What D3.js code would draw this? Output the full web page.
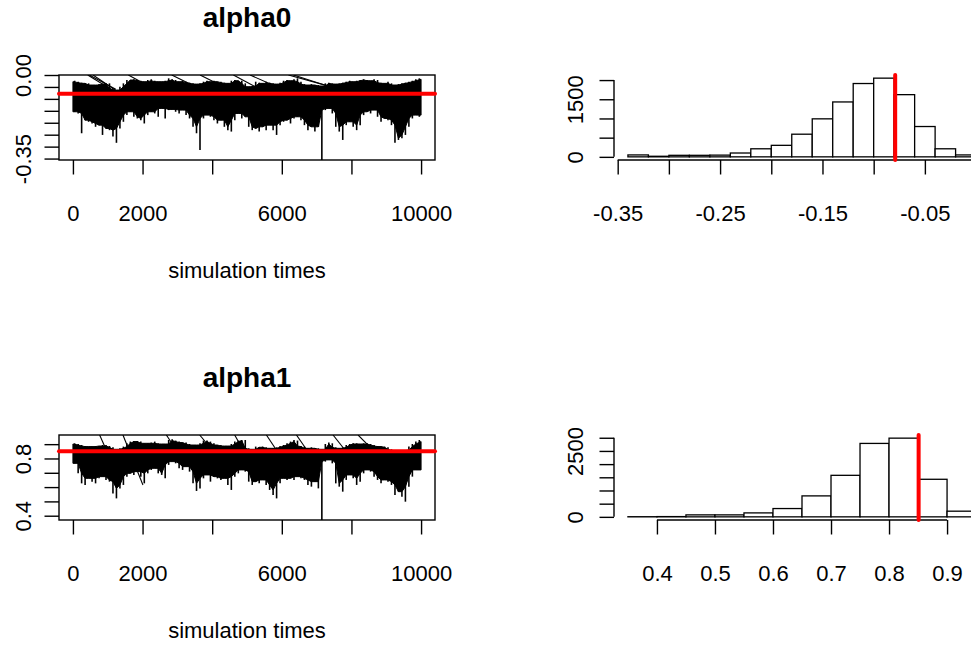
<!DOCTYPE html>
<html><head><meta charset="utf-8">
<script src="https://cdn.jsdelivr.net/npm/d3@7"></script>
<style>
body{margin:0;background:#fff}
svg{display:block}
text{font-family:"Liberation Sans",Arial,Helvetica,sans-serif;fill:#000}
</style>
</head><body>
<svg id="c" width="971" height="648"></svg>
<script>
// ---------------- DATA ----------------
const titles = ["alpha0", "alpha1"];
const xLabel = "simulation times";

// trace x axis (iterations)
const iterTicks = [0, 2000, 4000, 6000, 8000, 10000];
const iterTickLabels = ["0", "2000", "", "6000", "", "10000"];
const binStep = 100; // each envelope value summarises 100 iterations

// alpha0 trace: per-100-iteration max / min
const alpha0Max = [-0.024,-0.028,-0.032,-0.035,-0.035,-0.042,-0.042,-0.038,-0.038,-0.035,
 -0.035,-0.056,-0.063,-0.049,-0.035,-0.021,-0.021,-0.018,-0.021,-0.024,
 -0.028,-0.021,-0.018,-0.024,-0.028,-0.028,-0.024,-0.014,-0.018,-0.021,
 -0.028,-0.024,-0.028,-0.032,-0.035,-0.038,-0.035,-0.028,-0.024,-0.028,
 -0.024,-0.028,-0.028,-0.032,-0.035,-0.024,-0.021,-0.024,-0.024,-0.035,
 -0.049,-0.046,-0.028,-0.032,-0.035,-0.028,-0.032,-0.035,-0.038,-0.032,
 -0.024,-0.021,-0.024,-0.018,-0.014,-0.028,-0.038,-0.042,-0.038,-0.042,
 -0.042,-0.046,-0.035,-0.032,-0.035,-0.038,-0.035,-0.032,-0.028,-0.024,
 -0.028,-0.024,-0.021,-0.018,-0.021,-0.024,-0.018,-0.021,-0.032,-0.035,
 -0.028,-0.035,-0.042,-0.038,-0.035,-0.032,-0.028,-0.024,-0.018,-0.014];
const alpha0Min = [-0.154,-0.161,-0.244,-0.189,-0.196,-0.203,-0.217,-0.210,-0.251,-0.224,
 -0.231,-0.258,-0.284,-0.224,-0.196,-0.168,-0.154,-0.175,-0.182,-0.189,
 -0.203,-0.168,-0.154,-0.161,-0.175,-0.140,-0.182,-0.147,-0.144,-0.154,
 -0.161,-0.147,-0.168,-0.182,-0.217,-0.244,-0.314,-0.182,-0.168,-0.175,
 -0.189,-0.203,-0.189,-0.217,-0.231,-0.237,-0.189,-0.161,-0.182,-0.175,
 -0.217,-0.231,-0.224,-0.237,-0.217,-0.231,-0.210,-0.231,-0.251,-0.210,
 -0.196,-0.189,-0.203,-0.182,-0.175,-0.189,-0.210,-0.231,-0.217,-0.237,
 -0.217,-0.360,-0.147,-0.140,-0.161,-0.217,-0.237,-0.272,-0.210,-0.196,
 -0.217,-0.231,-0.210,-0.168,-0.154,-0.161,-0.147,-0.175,-0.196,-0.182,
 -0.189,-0.210,-0.284,-0.272,-0.265,-0.251,-0.217,-0.182,-0.168,-0.175];
// long jumps between far-apart draws: [iterStart, valueStart, iterEnd, valueEnd]
const alpha0Jumps = [
 [425,0,1210,-0.070],[470,0,1230,-0.060],[578,0,1928,-0.134],[1592,0,2121,-0.042],
 [2839,0,3365,-0.038],[3652,0,4514,-0.063],[4609,0,5328,-0.056],[5089,0,5951,-0.056],
 [6190,0,7580,-0.056],[6333,0,7675,-0.063]];

const alpha1Max = [0.906,0.901,0.894,0.887,0.883,0.883,0.887,0.887,0.894,0.894,
 0.887,0.878,0.864,0.871,0.883,0.906,0.918,0.922,0.922,0.918,
 0.906,0.906,0.911,0.918,0.906,0.901,0.901,0.929,0.934,0.925,
 0.918,0.911,0.911,0.901,0.894,0.894,0.906,0.925,0.925,0.918,
 0.906,0.894,0.894,0.887,0.887,0.901,0.918,0.925,0.929,0.929,
 0.871,0.864,0.883,0.878,0.883,0.878,0.871,0.871,0.878,0.887,
 0.894,0.906,0.918,0.929,0.925,0.887,0.883,0.871,0.878,0.871,
 0.871,0.864,0.901,0.911,0.906,0.878,0.871,0.878,0.894,0.901,
 0.906,0.906,0.901,0.906,0.906,0.901,0.894,0.887,0.883,0.883,
 0.878,0.864,0.855,0.848,0.855,0.859,0.883,0.901,0.918,0.929];
const alpha1Min = [0.766,0.696,0.626,0.615,0.661,0.638,0.626,0.661,0.673,0.650,
 0.638,0.556,0.521,0.591,0.615,0.673,0.696,0.685,0.708,0.673,
 0.626,0.696,0.720,0.731,0.696,0.685,0.661,0.755,0.778,0.766,
 0.731,0.720,0.743,0.708,0.626,0.573,0.591,0.661,0.685,0.638,
 0.673,0.661,0.650,0.661,0.615,0.580,0.673,0.696,0.720,0.708,
 0.638,0.615,0.638,0.626,0.650,0.615,0.580,0.545,0.521,0.626,
 0.661,0.650,0.661,0.650,0.673,0.661,0.650,0.615,0.603,0.638,
 0.591,0.360,0.778,0.790,0.766,0.626,0.603,0.568,0.650,0.685,
 0.661,0.615,0.638,0.696,0.720,0.708,0.673,0.650,0.626,0.650,
 0.638,0.615,0.545,0.568,0.533,0.498,0.603,0.673,0.720,0.720];
const alpha1Jumps = [
 [767,0.964,959,0.859],[1437,0.964,2011,0.615],[2684,0.964,2874,0.894],
 [3641,0.964,3879,0.894],[4647,0.964,4885,0.859],[5557,0.964,5844,0.859],
 [6420,0.964,6753,0.847],[7471,0.964,7854,0.847],[8190,0.964,8477,0.894]];

// posterior means (red lines)
const alpha0Mean = -0.079;
const alpha1Mean = 0.851;

// trace y axes
const alpha0YDomain = [-0.356, 0.0];
const alpha0YTicks = [-0.35,-0.30,-0.25,-0.20,-0.15,-0.10,-0.05,0.00];
const alpha0YLabels = ["-0.35","","","","","","","0.00"];
const alpha1YDomain = [0.37, 0.964];
const alpha1YTicks = [0.4,0.5,0.6,0.7,0.8,0.9];
const alpha1YLabels = ["0.4","","","","0.8",""];

// histograms
const alpha0Breaks = [-0.34,-0.32,-0.30,-0.28,-0.26,-0.24,-0.22,-0.20,-0.18,-0.16,-0.14,-0.12,-0.10,-0.08,-0.06,-0.04,-0.02,0.00];
const alpha0Counts = [50,15,40,40,45,100,210,300,590,990,1430,1910,2050,1620,790,210,50];
const alpha0HxTicks = [-0.35,-0.30,-0.25,-0.20,-0.15,-0.10,-0.05,0.00];
const alpha0HxLabels = ["-0.35","","-0.25","","-0.15","","-0.05",""];
const alpha0HyTicks = [0,500,1000,1500,2000];
const alpha0HyLabels = ["0","","","1500",""];

const alpha1Breaks = [0.35,0.40,0.45,0.50,0.55,0.60,0.65,0.70,0.75,0.80,0.85,0.90,0.95];
const alpha1Counts = [5,10,75,75,150,315,795,1575,2785,2985,1425,215];
const alpha1HxTicks = [0.4,0.5,0.6,0.7,0.8,0.9];
const alpha1HxLabels = ["0.4","0.5","0.6","0.7","0.8","0.9"];
const alpha1HyTicks = [0,500,1000,1500,2000,2500,3000];
const alpha1HyLabels = ["0","","","","","2500",""];

// ---------------- LAYOUT ----------------
const FS = 22, TFS = 28, TICK = 14.5, LW = 1.4;
const rows = [75, 435];          // plot region tops
const RH = 85;                   // plot region height
const traceX = [59, 435];
const histX = [614, 990];

const svg = d3.select("#c");
const defs = svg.append("defs");

function pad(dom){ const r = dom[1]-dom[0]; return [dom[0]-0.04*r, dom[1]+0.04*r]; }

function xAxis(g, scale, ticks, labels, y0, axisLine){
  const ax = d3.axisBottom(scale).tickValues(ticks).tickSize(TICK).tickSizeOuter(0)
    .tickFormat((d,i)=>labels[i]);
  const a = g.append("g").attr("transform",`translate(0,${y0})`).call(ax);
  a.select(".domain").remove();
  a.selectAll(".tick line").attr("stroke","#000").attr("stroke-width",LW);
  a.selectAll(".tick text").attr("y",60.5).attr("dy",0).style("font-size",FS+"px").attr("fill","#000");
  if(axisLine){
    g.append("line").attr("x1",scale(ticks[0])).attr("x2",scale(ticks[ticks.length-1]))
      .attr("y1",y0).attr("y2",y0).attr("stroke","#000").attr("stroke-width",LW);
  }
}
function yAxis(g, scale, ticks, labels, x0, labelX, axisLine){
  const ax = d3.axisLeft(scale).tickValues(ticks).tickSize(TICK).tickSizeOuter(0)
    .tickFormat((d,i)=>labels[i]);
  const a = g.append("g").attr("transform",`translate(${x0},0)`).call(ax);
  a.select(".domain").remove();
  a.selectAll(".tick line").attr("stroke","#000").attr("stroke-width",LW);
  a.selectAll(".tick text").attr("x",0).attr("dy",0)
    .attr("transform",`translate(${labelX-x0},0) rotate(-90)`)
    .attr("text-anchor","middle").style("font-size",FS+"px").attr("fill","#000");
  if(axisLine){
    g.append("line").attr("y1",scale(ticks[0])).attr("y2",scale(ticks[ticks.length-1]))
      .attr("x1",x0).attr("x2",x0).attr("stroke","#000").attr("stroke-width",LW);
  }
}

function trace(row, title, maxArr, minArr, jumps, mean, yDom, yTicks, yLabels){
  const top = rows[row], bot = top + RH;
  const g = svg.append("g");
  const x = d3.scaleLinear().domain(pad([0,10000])).range(traceX);
  const y = d3.scaleLinear().domain(yDom).range([bot, top]);
  const cid = "clip"+row;
  defs.append("clipPath").attr("id",cid).append("rect")
    .attr("x",traceX[0]).attr("y",top).attr("width",traceX[1]-traceX[0]).attr("height",RH);
  const pg = g.append("g").attr("clip-path",`url(#${cid})`);
  const n = maxArr.length;
  // solid body: the range shared by neighbouring bins
  const env = maxArr.map((v,k)=>{
    const a = Math.max(0,k-1), b = Math.min(n-1,k+1);
    return {it:k*binStep+50,
      hi: Math.min(maxArr[a], maxArr[k], maxArr[b]),
      lo: Math.max(minArr[a], minArr[k], minArr[b])};
  });
  env[0].it = 0; env[n-1].it = 10000;
  const area = d3.area().x(d=>x(d.it)).y0(d=>y(d.lo)).y1(d=>y(d.hi));
  pg.append("path").attr("d",area(env)).attr("fill","#000").attr("stroke","#000").attr("stroke-width",1);
  // each bin's full excursion as a thin vertical stroke (spikes)
  pg.selectAll("line.spk").data(maxArr.map((v,k)=>({it:k*binStep+50, hi:v, lo:minArr[k]})))
    .join("line").attr("class","spk")
    .attr("x1",d=>x(d.it)).attr("x2",d=>x(d.it)).attr("y1",d=>y(d.hi)).attr("y2",d=>y(d.lo))
    .attr("stroke","#000").attr("stroke-width",1.6);
  pg.selectAll("line.jump").data(jumps).join("line").attr("class","jump")
    .attr("x1",d=>x(d[0])).attr("y1",d=>y(d[1])).attr("x2",d=>x(d[2])).attr("y2",d=>y(d[3]))
    .attr("stroke","#000").attr("stroke-width",1.1);
  g.append("rect").attr("x",traceX[0]).attr("y",top).attr("width",traceX[1]-traceX[0]).attr("height",RH)
    .attr("fill","none").attr("stroke","#000").attr("stroke-width",LW);
  xAxis(g, x, iterTicks, iterTickLabels, bot, false);
  yAxis(g, y, yTicks, yLabels, traceX[0], 30.5, false);
  g.append("line").attr("x1",traceX[0]).attr("x2",traceX[1]).attr("y1",y(mean)).attr("y2",y(mean))
    .attr("stroke","#ff0000").attr("stroke-width",4).attr("stroke-linecap","round");
  const cx = (traceX[0]+traceX[1])/2;
  g.append("text").attr("x",cx).attr("y",top-48).attr("text-anchor","middle")
    .style("font-size",TFS+"px").style("font-weight","bold").text(title);
  g.append("text").attr("x",cx).attr("y",bot+118).attr("text-anchor","middle")
    .style("font-size",FS+"px").text(xLabel);
}

function hist(row, breaks, counts, mean, xt, xl, yt, yl){
  const top = rows[row], bot = top + RH;
  const g = svg.append("g");
  const x = d3.scaleLinear().domain(pad([breaks[0], breaks[breaks.length-1]])).range(histX);
  const y = d3.scaleLinear().domain(pad([0, d3.max(counts)])).range([bot, top]);
  const bins = counts.map((c,i)=>({x0:breaks[i], x1:breaks[i+1], c}));
  g.selectAll("rect.bar").data(bins).join("rect").attr("class","bar")
    .attr("x",d=>x(d.x0)).attr("width",d=>x(d.x1)-x(d.x0))
    .attr("y",d=>y(d.c)).attr("height",d=>y(0)-y(d.c))
    .attr("fill","#fff").attr("stroke","#000").attr("stroke-width",1.3);
  xAxis(g, x, xt, xl, bot, true);
  yAxis(g, y, yt, yl, histX[0], 583.3, true);
  g.append("line").attr("x1",x(mean)).attr("x2",x(mean)).attr("y1",top).attr("y2",bot)
    .attr("stroke","#ff0000").attr("stroke-width",4).attr("stroke-linecap","round");
}

trace(0, titles[0], alpha0Max, alpha0Min, alpha0Jumps, alpha0Mean, alpha0YDomain, alpha0YTicks, alpha0YLabels);
trace(1, titles[1], alpha1Max, alpha1Min, alpha1Jumps, alpha1Mean, alpha1YDomain, alpha1YTicks, alpha1YLabels);
hist(0, alpha0Breaks, alpha0Counts, alpha0Mean, alpha0HxTicks, alpha0HxLabels, alpha0HyTicks, alpha0HyLabels);
hist(1, alpha1Breaks, alpha1Counts, alpha1Mean, alpha1HxTicks, alpha1HxLabels, alpha1HyTicks, alpha1HyLabels);
</script>
</body></html>
